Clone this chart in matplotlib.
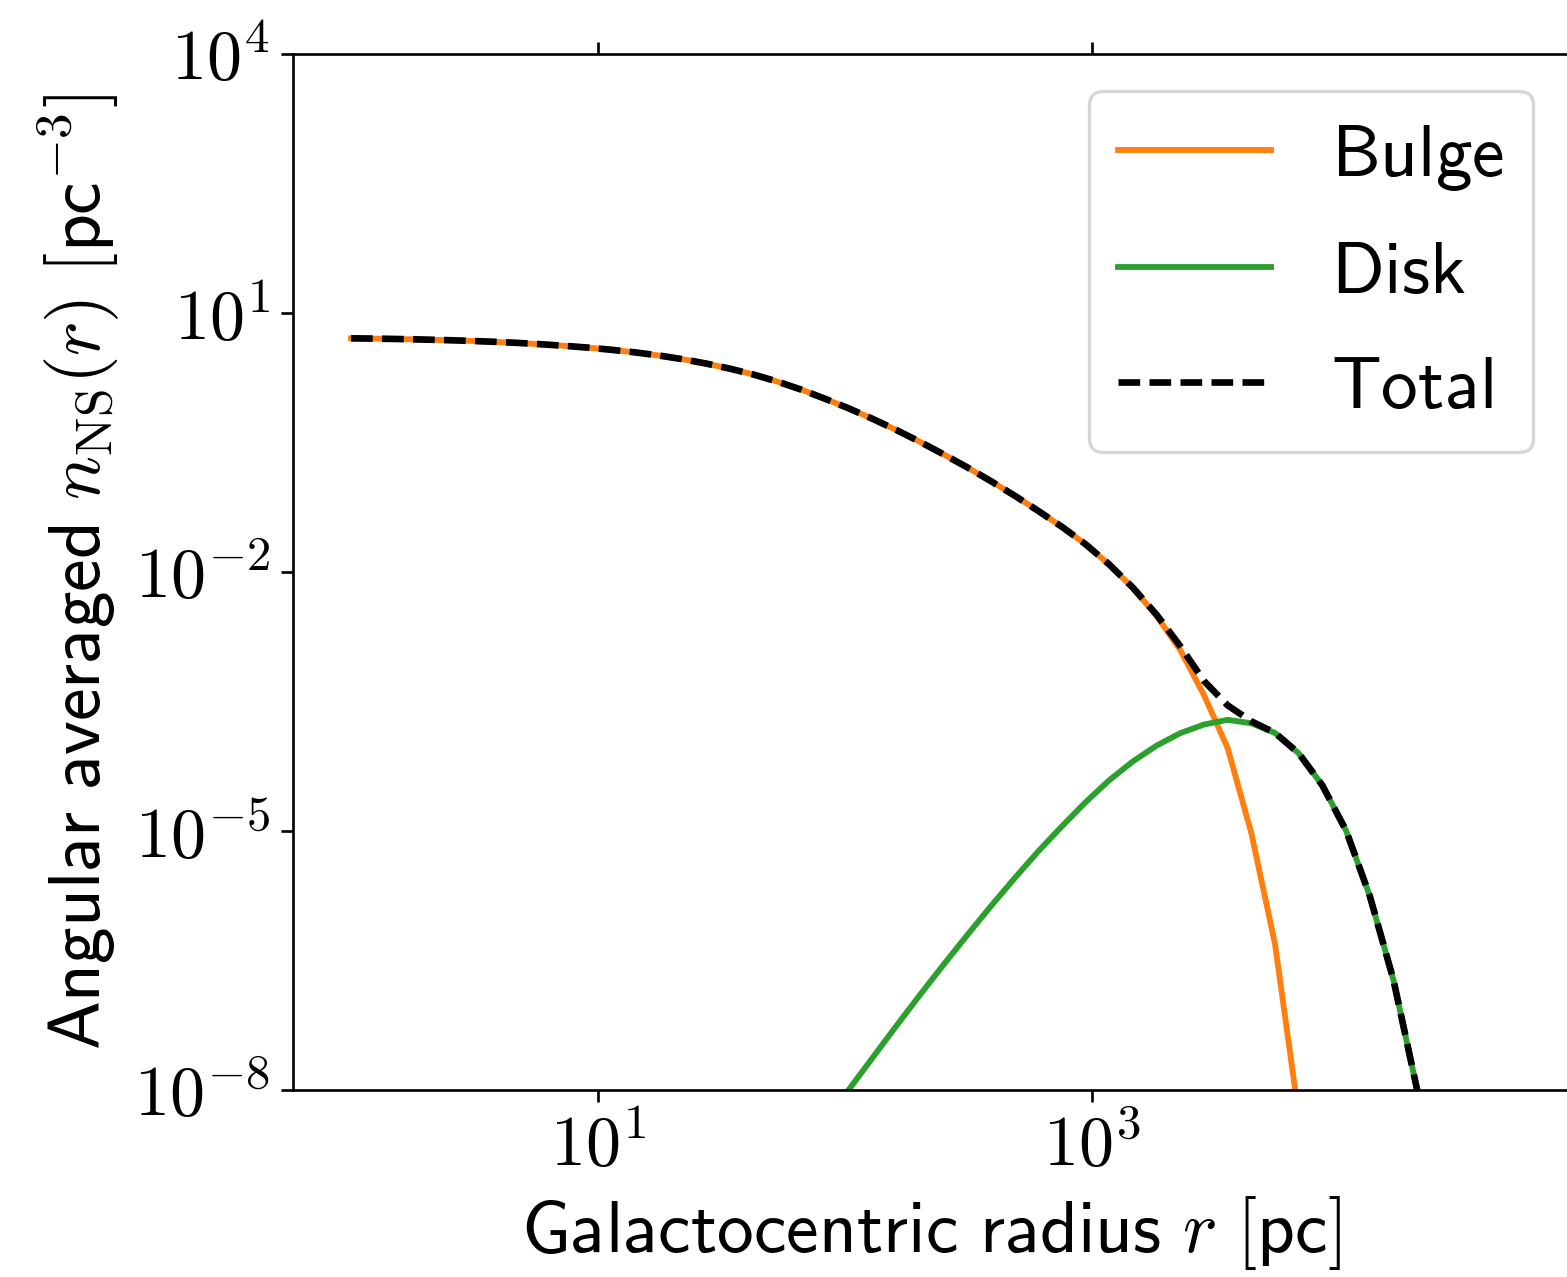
import numpy as np
import matplotlib
import matplotlib.pyplot as plt
from matplotlib.ticker import FuncFormatter

matplotlib.use("Agg")
plt.rcParams['mathtext.fontset'] = 'cm'
plt.rcParams['font.size'] = 20

# radial grid [pc], 50 log-spaced samples from 1 pc to 50 kpc
r = np.logspace(0, np.log10(5e4), 50)

# bulge density, samples 0..40 of the grid [pc^-3]
bulge = [5.090, 5.049, 4.996, 4.930, 4.853, 4.756, 4.644, 4.509, 4.350, 4.169,
         3.973, 3.747, 3.496, 3.218, 2.915, 2.593, 2.263, 1.933, 1.604, 1.296,
         1.017, 0.787, 0.5964, 0.4436, 0.3236, 0.2313, 0.1636, 0.1132, 7.688e-2, 5.113e-2,
         3.345e-2, 2.098e-2, 1.221e-2, 6.523e-3, 3.107e-3, 1.248e-3, 3.76e-4, 9.14e-5, 9.46e-6, 4.91e-7,
         5.1e-9]

# disk density, samples 20..46 of the grid [pc^-3]
disk = [4.25e-9, 1.00e-8, 2.34e-8, 5.45e-8, 1.25e-7, 2.81e-7, 6.19e-7, 1.34e-6, 2.82e-6, 5.79e-6,
        1.13e-5, 2.15e-5, 3.87e-5, 6.40e-5, 9.75e-5, 1.36e-4, 1.71e-4, 1.94e-4, 1.77e-4, 1.365e-4,
        7.94e-5, 3.37e-5, 1.01e-5, 1.77e-6, 1.88e-7, 1.00e-8, 1.26e-10]

i_disk = 20
n_tot = i_disk + len(disk)
total = np.zeros(n_tot)
total[:len(bulge)] += np.array(bulge)
total[i_disk:] += np.array(disk)

fig = plt.figure(figsize=(1567 / 240, 1277 / 240), dpi=240)
ax = fig.add_axes([293 / 1567, 187 / 1277, 1277 / 1567, 1036 / 1277])

ax.plot(r[:len(bulge)], bulge, color='C1', lw=1.75, label=r'$\mathsf{Bulge}$')
ax.plot(r[i_disk:n_tot], disk, color='C2', lw=1.75, label=r'$\mathsf{Disk}$')
ax.plot(r[:n_tot], total, color='k', lw=2, ls=(0, (3.25, 1.4)), label=r'$\mathsf{Total}$')

ax.set_xscale('log')
ax.set_yscale('log')
ax.set_xlim(10 ** -0.235, 10 ** 4.934)
ax.set_ylim(1e-8, 1e4)
ax.set_xticks([1e1, 1e3])
ax.set_yticks([1e-8, 1e-5, 1e-2, 1e1, 1e4])
ax.minorticks_off()
pow_fmt = FuncFormatter(lambda v, pos: r'$10^{%d}$' % round(np.log10(v)))
ax.xaxis.set_major_formatter(pow_fmt)
ax.yaxis.set_major_formatter(pow_fmt)
ax.tick_params(top=True, labelsize=21)

ax.set_xlabel(r'$\mathsf{Galactocentric\ radius}\ r\ \mathsf{[pc]}$', fontsize=22)
ax.set_ylabel(r'$\mathsf{Angular\ averaged}\ n_{\mathrm{NS}}(r)\ \mathsf{[pc^{-3}]}$', fontsize=22)

ax.legend(loc='upper right', fontsize=22, handlelength=2.08, handletextpad=0.82,
          labelspacing=0.6)

fig.savefig('out.png', dpi=240)
